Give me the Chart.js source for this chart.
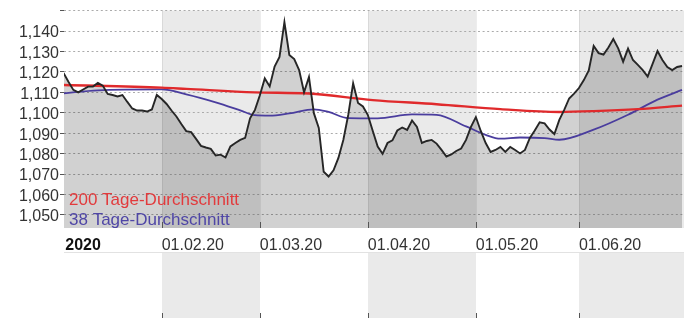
<!DOCTYPE html>
<html><head><meta charset="utf-8">
<script src="https://cdn.jsdelivr.net/npm/chart.js@4.4.1/dist/chart.umd.min.js"></script>
<style>html,body{margin:0;padding:0;background:#fff;overflow:hidden}canvas{display:block}</style>
</head><body>
<canvas id="c" width="684" height="318"></canvas>
<script>
// x values are weekday indices of 2020 (0 = 01.01.2020)
const firstDay = 3; // 06.01.2020
const price = [
1.1195,1.1152,1.1112,1.1100,1.1114,1.1128,1.1128,1.1146,1.1133,1.1092,
1.1087,1.1080,1.1087,1.1053,1.1021,1.1011,1.1011,1.1006,1.1016,1.1087,
1.1067,1.1043,1.1011,1.0982,1.0945,1.0910,1.0905,1.0872,1.0838,1.0830,
1.0823,1.0791,1.0795,1.0781,1.0835,1.0852,1.0867,1.0877,1.0973,1.1014,
1.1086,1.1168,1.1129,1.1226,1.1273,1.1444,1.1283,1.1263,1.1209,1.1100,
1.1175,1.0998,1.0926,1.0711,1.0688,1.0718,1.0779,1.0867,1.0989,1.1144,
1.1048,1.1031,1.0989,1.0911,1.0835,1.0799,1.0852,1.0865,1.0913,1.0928,
1.0916,1.0962,1.0931,1.0852,1.0862,1.0867,1.0849,1.0818,1.0786,1.0796,
1.0813,1.0825,1.0867,1.0931,1.0979,1.0911,1.0852,1.0808,1.0818,1.0833,
1.0808,1.0833,1.0818,1.0801,1.0818,1.0877,1.0913,1.0953,1.0948,1.0918,
1.0896,1.0965,1.1014,1.1070,1.1094,1.1121,1.1160,1.1207,1.1327,1.1292,
1.1285,1.1319,1.1361,1.1315,1.1250,1.1314,1.1258,1.1234,1.1209,1.1177,
1.1239,1.1302,1.1258,1.1224,1.1209,1.1224,1.1229
];
const ma200Days = [3,23,28,42,53,66,79,92,104,111,120,129];
const ma200 = [1.1136,1.1123,1.1117,1.1100,1.1094,1.1062,1.1042,1.1018,1.1004,1.1008,1.1018,1.1035];
const ma38Days = [3,10,23,28,34,39,42,45,49,54,57,61,67,74,79,85,89,92,96,101,104,111,118,124,129];
const ma38 = [1.1095,1.1110,1.1114,1.1090,1.1051,1.1012,1.0988,1.0986,1.0997,1.1017,1.1004,1.0974,1.0973,1.0992,1.0990,1.0933,1.0892,1.0873,1.0879,1.0876,1.0868,1.0917,1.0990,1.1064,1.1112];
const monthStarts = [23,43,65,87,108];
const tickDays = [3.35,23,43,65,87,108];
const tickLabels = ['2020','01.02.20','01.03.20','01.04.20','01.05.20','01.06.20'];
const yTicks = [1.05,1.06,1.07,1.08,1.09,1.10,1.11,1.12,1.13,1.14,1.15];
const legendLabels = ['200 Tage-Durchschnitt','38 Tage-Durchschnitt'];
const legendColors = ['#e23a3c','#4f46a6'];

const FONT = "'Liberation Sans', Arial, sans-serif";
const xMin = 3.1, xMax = 129.4;
const LABEL_H = 24;

const bands = {
  id: 'bands',
  beforeDraw(chart) {
    const {ctx, chartArea: a, scales: {x}} = chart;
    const panelTop = a.bottom + LABEL_H;
    const edges = [x.min, ...monthStarts, x.max];
    ctx.save();
    for (let k = 0; k < edges.length - 1; k++) {
      const x0 = Math.round(x.getPixelForValue(edges[k]));
      const x1 = Math.round(x.getPixelForValue(edges[k + 1]));
      ctx.fillStyle = k % 2 ? '#eaeaea' : '#ffffff';
      ctx.fillRect(x0, a.top, x1 - x0, a.bottom - a.top);
      ctx.fillRect(x0, panelTop, x1 - x0, chart.height - panelTop);
    }
    ctx.strokeStyle = 'rgba(0,0,0,0.07)';
    ctx.lineWidth = 1;
    monthStarts.forEach(d => {
      const px = Math.round(x.getPixelForValue(d)) + 0.5;
      ctx.beginPath(); ctx.moveTo(px, a.top); ctx.lineTo(px, a.bottom); ctx.stroke();
    });
    ctx.strokeStyle = '#e2e2e2';
    ctx.beginPath(); ctx.moveTo(a.left, panelTop + 0.5); ctx.lineTo(a.right, panelTop + 0.5); ctx.stroke();
    ctx.restore();
  },
  afterDraw(chart) {
    const {ctx, chartArea: a, scales: {x}} = chart;
    ctx.save();
    ctx.strokeStyle = '#555';
    ctx.lineWidth = 1;
    monthStarts.forEach(d => {
      const px = Math.round(x.getPixelForValue(d)) + 0.5;
      ctx.beginPath(); ctx.moveTo(px, a.bottom - 6); ctx.lineTo(px, a.bottom); ctx.stroke();
      ctx.beginPath(); ctx.moveTo(px, chart.height - 5); ctx.lineTo(px, chart.height); ctx.stroke();
    });
    ctx.font = '17px ' + FONT;
    ctx.textAlign = 'left';
    ctx.textBaseline = 'alphabetic';
    ctx.fillStyle = legendColors[0];
    ctx.fillText(legendLabels[0], a.left + 5, a.bottom - 23.5);
    ctx.fillStyle = legendColors[1];
    ctx.fillText(legendLabels[1], a.left + 5, a.bottom - 3.5);
    ctx.restore();
  }
};

const pts = (days, vals) => vals.map((v, i) => ({x: days[i], y: v}));

new Chart(document.getElementById('c'), {
  type: 'line',
  data: {
    datasets: [
      {
        label: 'Kurs',
        data: price.map((v, i) => ({x: firstDay + i, y: v})),
        borderColor: '#262626', borderWidth: 1.9,
        backgroundColor: 'rgba(0,0,0,0.18)',
        fill: 'start', pointRadius: 0, tension: 0, order: 0
      },
      {
        label: legendLabels[0],
        data: pts(ma200Days, ma200),
        borderColor: '#e02a2c', borderWidth: 2.4,
        fill: false, pointRadius: 0, tension: 0.4, cubicInterpolationMode: 'monotone', order: 1
      },
      {
        label: legendLabels[1],
        data: pts(ma38Days, ma38),
        borderColor: '#4a3d9e', borderWidth: 1.8,
        fill: false, pointRadius: 0, tension: 0.4, cubicInterpolationMode: 'monotone', order: 1
      }
    ]
  },
  options: {
    responsive: false,
    animation: false,
    devicePixelRatio: 1,
    layout: {padding: {top: 10, right: 0, bottom: 66, left: 0}},
    plugins: {
      legend: {display: false},
      tooltip: {enabled: false},
      filler: {drawTime: 'beforeDatasetsDraw'}
    },
    scales: {
      x: {
        type: 'linear', min: xMin, max: xMax,
        grid: {display: false},
        border: {display: false},
        afterBuildTicks: s => { s.ticks = tickDays.map(v => ({value: v})); },
        afterFit: s => { s.height = LABEL_H; },
        ticks: {
          align: 'start', padding: 0, maxRotation: 0, autoSkip: false,
          callback: (v, i) => tickLabels[i],
          font: c => c.index === 0 ? {family: FONT, size: 16, weight: 'bold'} : {family: FONT, size: 16},
          color: c => c.index === 0 ? '#111' : '#333'
        }
      },
      y: {
        min: 1.0436, max: 1.15,
        afterBuildTicks: s => { s.ticks = yTicks.map(v => ({value: v})); },
        afterFit: s => { s.width = 64; },
        border: {display: false, dash: [2, 2.6]},
        grid: {
          color: '#ababab', lineWidth: 1,
          tickColor: '#555', tickLength: 4, tickBorderDash: []
        },
        ticks: {
          autoSkip: false, padding: 1, labelOffset: 2,
          font: {family: FONT, size: 16},
          color: '#333',
          callback: v => v > 1.1495 ? '' : v.toFixed(3).replace('.', ',')
        }
      }
    }
  },
  plugins: [bands]
});
</script>
</body></html>
